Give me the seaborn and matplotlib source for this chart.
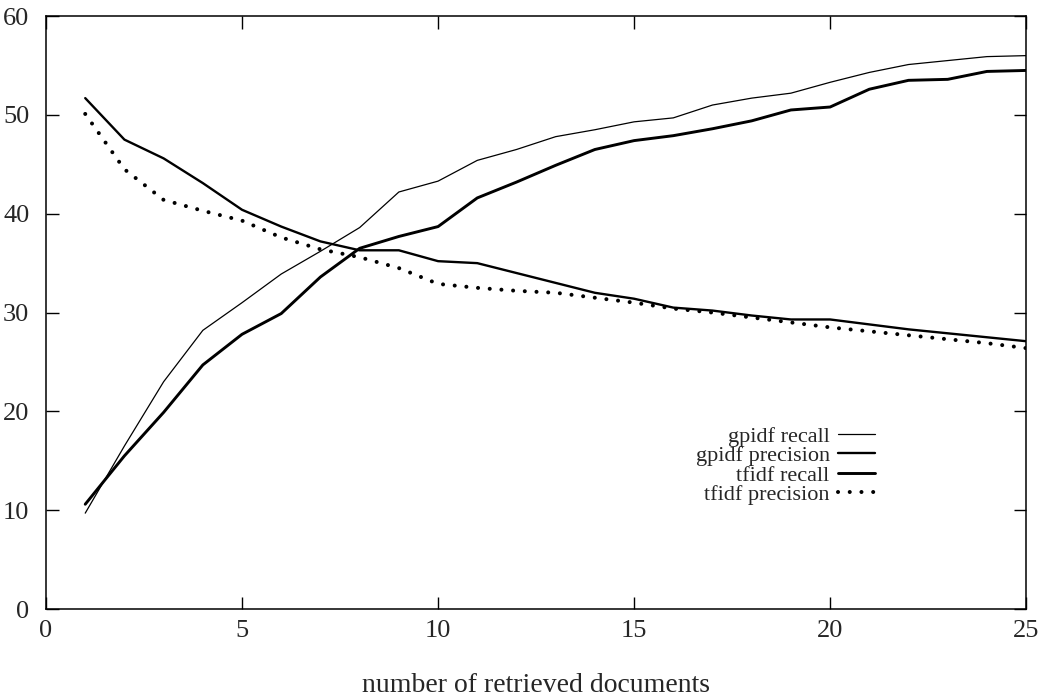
import pandas as pd
import matplotlib.pyplot as plt
import seaborn as sns

# values
docs = list(range(1, 26))
gpidf_recall = [9.7, 16.5, 23.0, 28.2, 31.0, 33.9, 36.2, 38.6, 42.2, 43.3, 45.4, 46.5, 47.8,
                48.5, 49.3, 49.7, 51.0, 51.7, 52.2, 53.3, 54.3, 55.1, 55.5, 55.9, 56.0]
gpidf_precision = [51.7, 47.5, 45.6, 43.1, 40.4, 38.7, 37.2, 36.3, 36.3, 35.2, 35.0, 34.0, 33.0,
                   32.0, 31.4, 30.5, 30.2, 29.7, 29.3, 29.3, 28.8, 28.3, 27.9, 27.5, 27.1]
tfidf_recall = [10.6, 15.5, 19.9, 24.7, 27.8, 29.9, 33.6, 36.5, 37.7, 38.7, 41.6, 43.2, 44.9,
                46.5, 47.4, 47.9, 48.6, 49.4, 50.5, 50.8, 52.6, 53.5, 53.6, 54.4, 54.5]
tfidf_precision = [50.1, 44.5, 41.4, 40.3, 39.3, 37.6, 36.4, 35.6, 34.5, 32.9, 32.5, 32.2, 32.0,
                   31.5, 31.0, 30.4, 30.0, 29.5, 29.0, 28.5, 28.1, 27.7, 27.3, 26.9, 26.4]

series = {
    'gpidf recall': gpidf_recall,
    'gpidf precision': gpidf_precision,
    'tfidf recall': tfidf_recall,
    'tfidf precision': tfidf_precision,
}
styles = {
    'gpidf recall': dict(lw=0.9, ls='-'),
    'gpidf precision': dict(lw=1.7, ls='-'),
    'tfidf recall': dict(lw=2.1, ls='-'),
    'tfidf precision': dict(lw=2.9, ls=(0, (0.01, 2.9))),
}

data = pd.DataFrame([(k, x, y) for k, v in series.items() for x, y in zip(docs, v)],
                    columns=['series', 'docs', 'value'])

sns.set_style('ticks')
plt.rcParams['font.family'] = ['Liberation Serif', 'DejaVu Serif']

fig = plt.figure(figsize=(10.46, 7.0), dpi=100)
ax = fig.add_axes([0.044, 0.13, 0.937, 0.847])

for name in series:
    st = styles[name]
    sns.lineplot(data=data[data['series'] == name], x='docs', y='value', ax=ax,
                 color='black', linewidth=st['lw'], linestyle=st['ls'], label=name,
                 dash_capstyle='round', solid_joinstyle='round')

ax.set_xlim(0, 25)
ax.set_ylim(0, 60)
ax.set_xticks([0, 5, 10, 15, 20, 25])
ax.set_yticks([0, 10, 20, 30, 40, 50, 60])
ax.tick_params(direction='in', length=9, width=1, top=True, right=True,
               labelsize=19, pad=8, color='black')
ax.tick_params(axis='y', pad=12)
for s in ax.spines.values():
    s.set_visible(True)
    s.set_linewidth(1.1)
    s.set_color('black')

ax.set_xlabel('number of retrieved documents', fontsize=20, labelpad=22)
ax.set_ylabel('')

ax.legend(loc='upper right', bbox_to_anchor=(0.8667, 0.342), frameon=False,
          markerfirst=False, handlelength=1.7, handletextpad=0.36,
          labelspacing=-0.05, fontsize=16)

fig.savefig('out.png', dpi=100, facecolor='white')
